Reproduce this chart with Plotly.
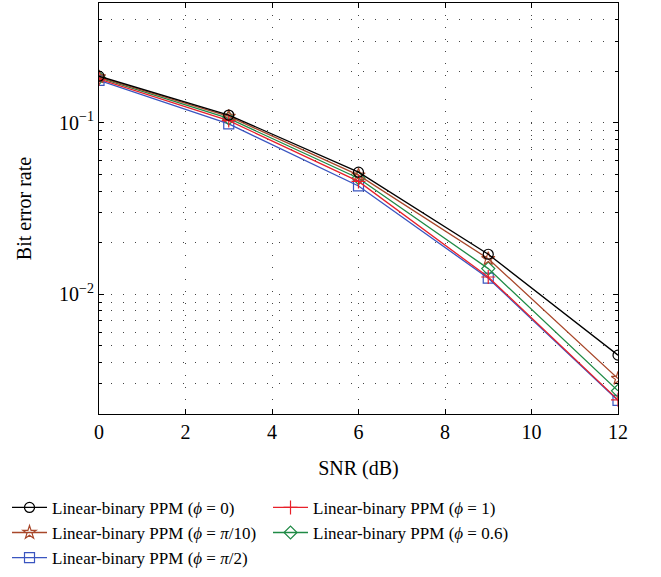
import plotly.graph_objects as go

# SNR sweep and measured bit error rates
snr_db = [0, 3, 6, 9, 12]
ber_phi_0 = [0.187, 0.111, 0.0515, 0.0171, 0.00441]
ber_phi_pi10 = [0.185, 0.109, 0.0495, 0.0161, 0.00322]
ber_phi_pi2 = [0.177, 0.0985, 0.0428, 0.0124, 0.00240]
ber_phi_1 = [0.180, 0.103, 0.0455, 0.0126, 0.00242]
ber_phi_06 = [0.183, 0.106, 0.0475, 0.0141, 0.00273]

x_ticks = [0, 2, 4, 6, 8, 10, 12]
y_major = [0.01, 0.1]
y_major_text = ["10<sup>\u22122</sup>", "10<sup>\u22121</sup>"]
y_minor = [m * 10 ** e for e in (-3, -2, -1) for m in range(2, 10) if 0.002 <= m * 10 ** e <= 0.5]

series = [
    ("Linear-binary PPM (<i>\u03d5</i> = 0)", ber_phi_0, "#000000", "circle-open", 1),
    ("Linear-binary PPM (<i>\u03d5</i> = 1)", ber_phi_1, "#e8202a", "cross-thin-open", 2),
    ("Linear-binary PPM (<i>\u03d5</i> = <i>\u03c0</i>/10)", ber_phi_pi10, "#a8472a", "star-open", 3),
    ("Linear-binary PPM (<i>\u03d5</i> = 0.6)", ber_phi_06, "#1f8a45", "diamond-open", 4),
    ("Linear-binary PPM (<i>\u03d5</i> = <i>\u03c0</i>/2)", ber_phi_pi2, "#3a55c0", "square-open", 5),
]

SERIF = "Liberation Serif"
axis_font = dict(family=SERIF, size=20, color="black")

fig = go.Figure()
for name, vals, color, symbol, rank in reversed(series):
    fig.add_trace(go.Scatter(
        x=snr_db, y=vals, name=name, mode="lines+markers",
        line=dict(color=color, width=1.3),
        marker=dict(symbol=symbol, size=10, color=color, line=dict(color=color, width=1.2)),
        legendrank=rank,
    ))

fig.update_layout(
    template=None,
    width=661, height=577,
    margin=dict(l=99, r=43, t=3, b=163),
    paper_bgcolor="white", plot_bgcolor="white",
    font=dict(family=SERIF, size=17, color="black"),
    showlegend=True,
    legend=dict(
        orientation="h", xref="container", yref="container",
        x=0.0106, y=0.151, xanchor="left", yanchor="top",
        entrywidth=211, entrywidthmode="pixels",
        font=dict(family=SERIF, size=17, color="black"),
        tracegroupgap=0, itemwidth=35, bgcolor="rgba(0,0,0,0)",
    ),
)

fig.update_xaxes(
    range=[0, 12], tickmode="array", tickvals=x_ticks, ticks="inside", ticklen=5,
    tickcolor="black", linecolor="black", linewidth=1, mirror="ticks",
    showline=True, zeroline=False, tickfont=axis_font,
    showgrid=True, gridcolor="#444444", gridwidth=1, griddash="1px,11px",
)
fig.update_xaxes(title_text="SNR (dB)", title_font=axis_font, title_standoff=18)

fig.update_yaxes(
    type="log", range=[-2.699, -0.301], tickmode="array", tickvals=y_major,
    ticktext=y_major_text, ticks="inside", ticklen=5, tickcolor="black",
    linecolor="black", linewidth=1, mirror="ticks", showline=True, zeroline=False,
    tickfont=axis_font,
    showgrid=True, gridcolor="#444444", gridwidth=1, griddash="1px,11px",
    minor=dict(tickmode="array", tickvals=y_minor, ticks="inside", ticklen=3,
               tickcolor="black", showgrid=True, gridcolor="#444444",
               griddash="1px,11px", gridwidth=1),
)
fig.update_yaxes(title_text="Bit error rate", title_font=axis_font, title_standoff=22)

fig.write_html("out.html")
